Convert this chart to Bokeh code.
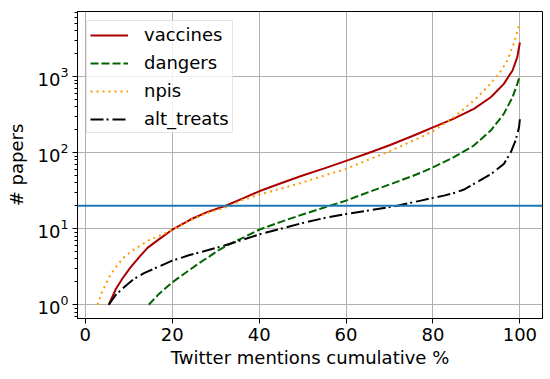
from bokeh.plotting import figure
from bokeh.models import Range1d, Span, Legend, LegendItem, FixedTicker
from bokeh.embed import file_html
from bokeh.resources import INLINE

# ---- data ----
vaccines_x = [5.4, 7, 8.5, 10.4, 12.5, 14.3, 17, 20, 24.2, 28, 32.3, 36, 40, 45, 50, 55, 60,
              65, 70, 75, 77.2, 80, 84.8, 89.4, 93.3, 96.3, 98.3, 99.4, 100]
vaccines_y = [1, 1.6, 2.2, 3.1, 4.3, 5.6, 7.3, 9.7, 13.2, 16.5, 20, 24.6, 31, 39.5, 50, 62, 78,
              98, 125, 163, 184, 215, 280, 376, 534, 802, 1200, 1800, 2800]

dangers_x = [14.6, 17, 20, 22.5, 25.8, 28.5, 31.1, 34, 36.5, 40, 45, 50.3, 55, 60, 65, 70.3,
             75, 77.2, 80, 84.8, 89.4, 93.3, 96.3, 98.3, 99.4, 100]
dangers_y = [1, 1.4, 1.97, 2.5, 3.4, 4.3, 5.4, 6.6, 7.7, 9.7, 12.3, 15.6, 19, 23.4, 30, 38.7,
             48.5, 54.5, 64, 87, 124, 195, 323, 534, 802, 1030]

npis_x = [2.8, 3.9, 5.8, 7.5, 8.9, 10.5, 12.7, 14.5, 16.6, 20, 24.2, 28, 33.4, 35.7, 40, 45,
          50, 55, 60, 65, 70.3, 75, 77.2, 80, 84.8, 89.4, 92.5, 95.2, 97.1, 98.6, 99.8]
npis_y = [1, 1.5, 2.5, 3.4, 4.2, 5, 6, 7, 7.85, 9.6, 13, 16, 20, 23.4, 28, 33.5,
          40.6, 50, 61, 80, 106, 140, 159, 192, 291, 483, 724, 1086, 1625, 2700, 4700]

alt_x = [5.4, 7, 8.9, 11, 13.5, 16.5, 20, 24, 28.1, 32, 35.7, 40, 45, 50.3, 55, 60, 65, 71.8,
         75, 77.2, 80, 82.5, 85, 87, 89.4, 93.3, 96.3, 97.9, 99, 99.8, 100]
alt_y = [1, 1.35, 1.7, 2.15, 2.6, 3.1, 3.8, 4.5, 5.2, 6, 7, 8.4, 10, 12, 13.8, 15.6, 17.3, 20,
         22, 23.4, 25.4, 27.2, 29.6, 32.5, 38.7, 52, 71, 101, 144, 215, 277]

series_names = ["vaccines", "dangers", "npis", "alt_treats"]
threshold = 20
x_ticks = [0, 20, 40, 60, 80, 100]

FONT = "DejaVu Sans"

p = figure(width=550, height=379, y_axis_type="log",
           x_range=Range1d(-1.8, 105.2), y_range=Range1d(0.66, 7160),
           output_backend="svg", toolbar_location=None,
           min_border_left=77, min_border_right=8, min_border_top=11, min_border_bottom=61)

p.background_fill_color = "white"
p.border_fill_color = "white"
p.outline_line_color = "black"
p.outline_line_width = 1
p.outline_line_alpha = 1

xt = FixedTicker(ticks=x_ticks)
p.xaxis.ticker = xt
p.xgrid.ticker = xt
p.yaxis[0].ticker.num_minor_ticks = 10

for g in (p.xgrid, p.ygrid):
    g.grid_line_color = "#b0b0b0"
    g.grid_line_width = 1

for ax in (p.xaxis, p.yaxis):
    ax.axis_line_color = "black"
    ax.major_tick_line_color = "black"
    ax.minor_tick_line_color = "black"
    ax.major_tick_out = 5
    ax.major_tick_in = 0
    ax.minor_tick_out = 3
    ax.minor_tick_in = 0
    ax.major_label_text_font = FONT
    ax.major_label_text_font_size = "18px"
    ax.major_label_text_color = "black"
    ax.axis_label_text_font = FONT
    ax.axis_label_text_font_size = "18px"
    ax.axis_label_text_font_style = "normal"
    ax.axis_label_text_color = "black"
    ax.major_label_standoff = 4

p.xaxis.minor_tick_line_color = None
p.xaxis.axis_label = "Twitter mentions cumulative %"
p.yaxis.axis_label = "# papers"
p.xaxis.axis_label_standoff = 3
p.yaxis.axis_label_standoff = 8

r1 = p.line(vaccines_x, vaccines_y, line_color="#aa0000", line_width=2)
r2 = p.line(dangers_x, dangers_y, line_color="#006400", line_width=2, line_dash="8 3")
r3 = p.line(npis_x, npis_y, line_color="#ff9900", line_width=2, line_dash="2 4")
r4 = p.line(alt_x, alt_y, line_color="black", line_width=2, line_dash="13 3 2 4")

p.add_layout(Span(location=threshold, dimension="width", line_color="#1f77b4", line_width=2))

legend = Legend(items=[LegendItem(label=n, renderers=[r]) for n, r in
                       zip(series_names, [r1, r2, r3, r4])],
                location="top_left")
legend.margin = 9
legend.padding = 3
legend.spacing = 7
legend.glyph_width = 38
legend.glyph_height = 18
legend.label_height = 18
legend.label_standoff = 16
legend.label_text_font = FONT
legend.label_text_font_size = "18px"
legend.label_text_color = "black"
legend.border_line_color = "#cccccc"
legend.border_line_width = 1
legend.background_fill_alpha = 0.8
p.add_layout(legend)

open("out.html", "w").write(file_html(p, INLINE))
